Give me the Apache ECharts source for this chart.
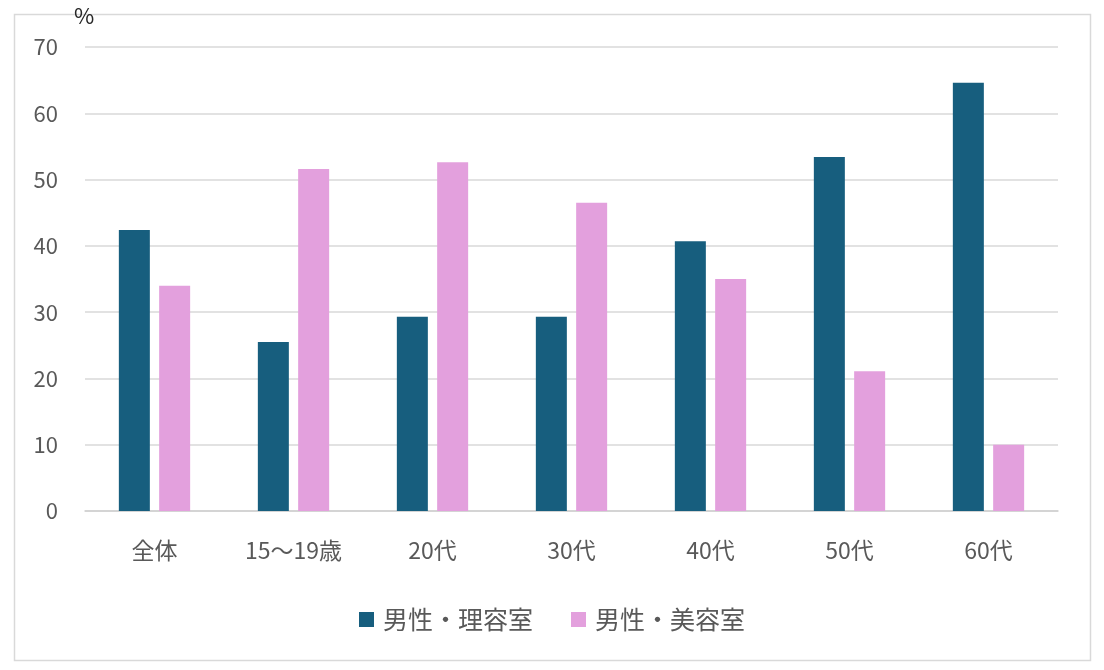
<!DOCTYPE html>
<html><head><meta charset="utf-8">
<script src="https://cdn.jsdelivr.net/npm/echarts@6/dist/echarts.min.js"></script>
<style>html,body{margin:0;padding:0;background:#fff}#c{width:1104px;height:670px}</style>
</head><body><div id="c"></div>
<script>
const categories = ['全体','15〜19歳','20代','30代','40代','50代','60代'];
const seriesNames = ['男性・理容室','男性・美容室'];
const barber = [42.4, 25.5, 29.3, 29.3, 40.7, 53.4, 64.6];
const salon = [34.0, 51.6, 52.6, 46.5, 35.0, 21.1, 10.0];
const yTicks = {min:0, max:70, interval:10};
const font = "'Noto Sans CJK JP', 'Noto Sans', sans-serif";
const chart = echarts.init(document.getElementById('c'), null, {renderer:'canvas'});
chart.setOption({
  animation:false,
  backgroundColor:'#fff',
  textStyle:{fontFamily:font},
  graphic:[
    {type:'rect', shape:{x:14.5,y:14.5,width:1076,height:646}, style:{fill:'none', stroke:'#d9d9d9', lineWidth:1.5}, silent:true},
    {type:'text', left:74, top:5, style:{text:'%', fontSize:22, fill:'#262626', fontFamily:font}}
  ],
  grid:{left:85, right:46, top:47, bottom:159, containLabel:false},
  legend:{data:seriesNames, top:602, left:'center', itemWidth:15, itemHeight:15, itemGap:38, icon:'rect',
    textStyle:{fontSize:25, color:'#595959', fontFamily:font, padding:[0,0,0,4]}},
  xAxis:{type:'category', data:categories,
    axisLine:{lineStyle:{color:'#d0d0d0', width:1.5}}, axisTick:{show:false},
    axisLabel:{fontSize:23, color:'#595959', margin:28, fontFamily:font}},
  yAxis:{type:'value', min:yTicks.min, max:yTicks.max, interval:yTicks.interval,
    axisLine:{show:false}, axisTick:{show:false},
    splitLine:{lineStyle:{color:'#d9d9d9', width:1.5}},
    axisLabel:{fontSize:22, color:'#595959', margin:27, fontFamily:font}},
  series:[
    {name:seriesNames[0], type:'bar', data:barber, barWidth:31, barGap:'30%', itemStyle:{color:'#175E7E'}},
    {name:seriesNames[1], type:'bar', data:salon, barWidth:31, itemStyle:{color:'#E3A0DD'}}
  ]
});
</script></body></html>
